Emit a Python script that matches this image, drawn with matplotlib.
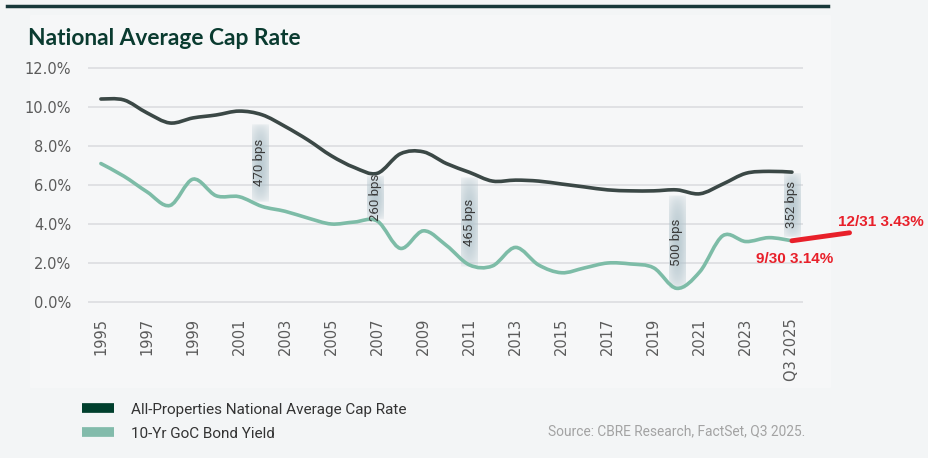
import matplotlib.pyplot as plt
import numpy as np
from matplotlib.path import Path
from matplotlib.patches import PathPatch, Rectangle
from matplotlib.lines import Line2D

# data
years = list(range(1995, 2026))
cap_rate = [10.41, 10.36, 9.70, 9.18, 9.44, 9.59, 9.79, 9.60, 9.00, 8.30,
            7.50, 6.90, 6.60, 7.60, 7.70, 7.10, 6.65, 6.20, 6.25, 6.20,
            6.05, 5.90, 5.75, 5.70, 5.70, 5.75, 5.55, 6.05, 6.60, 6.70, 6.66]
bond_yield = [7.10, 6.45, 5.65, 4.95, 6.30, 5.45, 5.40, 4.90, 4.65, 4.30,
              4.00, 4.10, 4.15, 2.75, 3.65, 2.90, 1.90, 1.85, 2.80, 1.90,
              1.50, 1.75, 2.00, 1.95, 1.75, 0.70, 1.55, 3.40, 3.10, 3.30, 3.14]
xtick_years = list(range(1995, 2026, 2))
xtick_labels = [str(y) for y in xtick_years[:-1]] + ["Q3 2025"]
yticks = [0, 2, 4, 6, 8, 10, 12]

bps_year = [2001.9, 2006.9, 2011.0, 2020.0, 2025.0]
bps_text = ["470 bps", "260 bps", "465 bps", "500 bps", "352 bps"]
bps_top = [9.2, 6.5, 6.45, 5.5, 6.67]
bps_bottom = [5.1, 4.2, 1.75, 0.6, 3.3]

# red hand annotation: last print to year end
red_x = [2025.0, 2027.5]
red_y = [3.14, 3.55]

BG = "#f3f5f6"
CAP = "#3b4846"
BOND = "#7dbca7"
GREEN = "#003f2d"


def smooth_path(x, y):
    # catmull-rom through the points, as bezier segments
    n = len(x)
    verts = [(x[0], y[0])]
    codes = [Path.MOVETO]
    for i in range(n - 1):
        a = max(i - 1, 0)
        d = min(i + 2, n - 1)
        c1 = (x[i] + (x[i + 1] - x[a]) / 6, y[i] + (y[i + 1] - y[a]) / 6)
        c2 = (x[i + 1] - (x[d] - x[i]) / 6, y[i + 1] - (y[d] - y[i]) / 6)
        verts += [c1, c2, (x[i + 1], y[i + 1])]
        codes += [Path.CURVE4] * 3
    return Path(verts, codes)


fig = plt.figure(figsize=(9.29, 4.58), dpi=100, facecolor=BG)
fig.patches.append(Rectangle((30 / 929, 1 - 387 / 458), 800 / 929, 372 / 458,
                             transform=fig.transFigure, color="#f6f7f8", zorder=-5))
fig.add_artist(Line2D([7 / 929, 828 / 929], [1 - 6 / 458, 1 - 6 / 458],
                      color="#17383a", lw=2.5))

ax = fig.add_axes([88 / 929, 1 - 303.95 / 458, 715 / 929, 237.9 / 458])
ax.set_zorder(2)
ax.set_facecolor("none")
for s in ax.spines.values():
    s.set_visible(False)
ax.set_yticks(yticks)
ax.set_yticklabels([f"{v:.1f}%" for v in yticks])
ax.set_xticks(xtick_years)
ax.set_xticklabels(xtick_labels, rotation=90, va="top")
ax.tick_params(length=0, labelsize=10.5, labelcolor="#5b5b5b")
ax.tick_params(axis="y", pad=12)
ax.tick_params(axis="x", pad=10)
ax.grid(axis="y", color="#dcdde0", lw=1.2)
ax.set_axisbelow(True)

# gradient bars behind the spread labels
vert = np.sin(np.linspace(0, np.pi, 60)) ** 0.4
horiz = 0.6 + 0.4 * np.sin(np.linspace(0, np.pi, 12))
grad = np.zeros((60, 12, 4))
grad[..., :3] = (0.70, 0.77, 0.80)
grad[..., 3] = np.outer(vert, horiz) * 0.85
for bx, bt, top, bot in zip(bps_year, bps_text, bps_top, bps_bottom):
    ax.imshow(grad, extent=(bx - 0.35, bx + 0.35, bot, top), aspect="auto",
              zorder=1, interpolation="bilinear")
    ax.text(bx, (top + bot) / 2, bt, rotation=90, ha="center", va="center",
            fontsize=9.5, color="#3a3a3a", family="Roboto", zorder=3)
ax.set_xlim(1994.44, 2025.48)
ax.set_ylim(-0.1, 12.1)

ax.add_patch(PathPatch(smooth_path(years, cap_rate), fill=False, ec=CAP,
                       lw=2.6, capstyle="round", zorder=2))
ax.add_patch(PathPatch(smooth_path(years, bond_yield), fill=False, ec=BOND,
                       lw=2.6, capstyle="round", zorder=2))

ax.plot(red_x, red_y, color="#e8202a", lw=3.5, solid_capstyle="round",
        clip_on=False, zorder=4)
ax.annotate("12/31 3.43%", (red_x[1], red_y[1]), xytext=(-8.3, 2.7),
            textcoords="offset points", ha="left", va="bottom",
            color="#e8202a", fontsize=11, fontweight="bold",
            family="Liberation Sans", annotation_clip=False)
ax.annotate("9/30 3.14%", (red_x[0], red_y[0]), xytext=(-26, -8),
            textcoords="offset points", ha="left", va="top",
            color="#e8202a", fontsize=11, fontweight="bold",
            family="Liberation Sans", annotation_clip=False)

fig.text(28 / 929, 1 - 45 / 458, "National Average Cap Rate", fontsize=16.4,
         fontweight="bold", color="#0a3b30", family="Lato")

handles = [Line2D([], [], color=GREEN, lw=7, solid_capstyle="butt"),
           Line2D([], [], color="#82bbab", lw=7, solid_capstyle="butt")]
fig.legend(handles, ["All-Properties National Average Cap Rate", "10-Yr GoC Bond Yield"],
           loc="upper left", bbox_to_anchor=(68 / 929, 1 - 389 / 458), frameon=False,
           handlelength=2.1, handletextpad=1.1, labelspacing=0.65,
           prop={"family": "Roboto", "size": 11}, labelcolor="#333333")
fig.text(805 / 929, 1 - 431 / 458, "Source: CBRE Research, FactSet, Q3 2025.",
         ha="right", va="center", fontsize=9.9, color="#a3a3a3", family="Roboto")

fig.savefig("out.png", dpi=100, facecolor=BG)
